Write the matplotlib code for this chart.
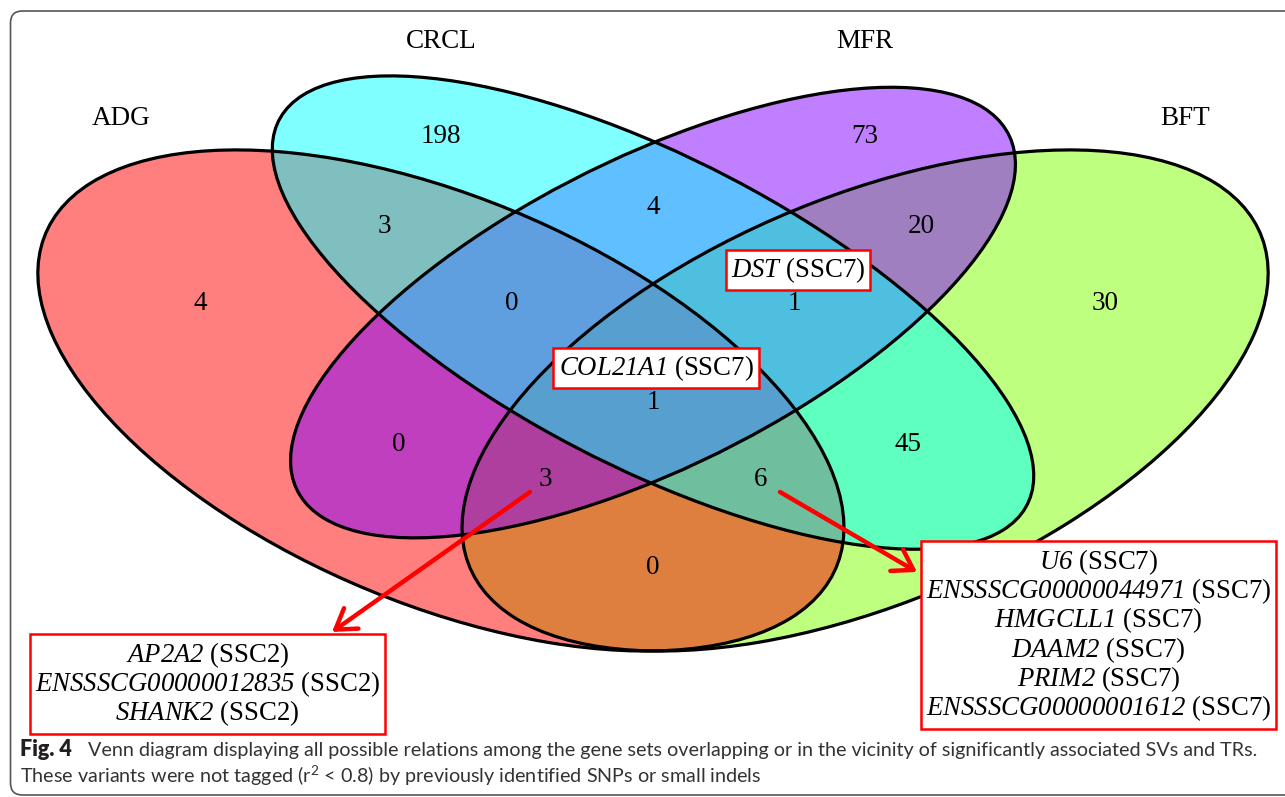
import matplotlib
matplotlib.use("Agg")
import matplotlib.pyplot as plt
from matplotlib.patches import Ellipse, FancyBboxPatch

plt.rcParams['mathtext.fontset'] = 'custom'
plt.rcParams['mathtext.rm'] = 'Lato'
plt.rcParams['mathtext.sf'] = 'Liberation Serif:italic'

SERIF = "Liberation Serif"

# ── data ──
set_names = ["ADG", "CRCL", "MFR", "BFT"]
set_colors = ["#FF0000", "#00FFFF", "#8000FF", "#80FF00"]

region_keys = ["ADG", "CRCL", "MFR", "BFT",
               "ADG&CRCL", "CRCL&MFR", "MFR&BFT",
               "ADG&CRCL&MFR", "CRCL&MFR&BFT", "ADG&CRCL&MFR&BFT",
               "ADG&MFR", "CRCL&BFT", "ADG&MFR&BFT", "ADG&CRCL&BFT",
               "ADG&BFT"]
region_counts = [4, 198, 73, 30, 3, 4, 20, 0, 1, 1, 0, 45, 3, 6, 0]

genes_all4 = ["COL21A1"]
genes_crcl_mfr_bft = ["DST"]
genes_adg_mfr_bft = ["AP2A2", "ENSSSCG00000012835", "SHANK2"]
genes_adg_crcl_bft = ["U6", "ENSSSCG00000044971", "HMGCLL1", "DAAM2",
                      "PRIM2", "ENSSSCG00000001612"]
chrom_all4 = "SSC7"
chrom_crcl_mfr_bft = "SSC7"
chrom_adg_mfr_bft = "SSC2"
chrom_adg_crcl_bft = "SSC7"

# ── layout (unit square, quad-venn style) ──
# x, y, semi-major, semi-minor, rotation
ELLIPSES = {
    "BFT":  (0.65, 0.47, 0.35, 0.20, 45),
    "ADG":  (0.35, 0.47, 0.35, 0.20, 135),
    "MFR":  (0.50, 0.57, 0.33, 0.15, 45),
    "CRCL": (0.50, 0.57, 0.35, 0.15, 135),
}
DRAW_ORDER = ["BFT", "ADG", "MFR", "CRCL"]

LABEL_POS = {
    "ADG": (0.18, 0.58), "CRCL": (0.35, 0.77), "MFR": (0.65, 0.77),
    "BFT": (0.82, 0.58), "ADG&CRCL": (0.31, 0.668), "CRCL&MFR": (0.50, 0.69),
    "MFR&BFT": (0.69, 0.668), "ADG&CRCL&MFR": (0.40, 0.58),
    "CRCL&MFR&BFT": (0.60, 0.58), "ADG&CRCL&MFR&BFT": (0.50, 0.468),
    "ADG&MFR": (0.32, 0.42), "CRCL&BFT": (0.68, 0.42),
    "ADG&MFR&BFT": (0.424, 0.38), "ADG&CRCL&BFT": (0.576, 0.38),
    "ADG&BFT": (0.50, 0.28),
}
CAT_POS = {"ADG": (0.124, 0.791), "CRCL": (0.35, 0.878),
           "MFR": (0.65, 0.878), "BFT": (0.876, 0.791)}

W_PX, H_PX = 1285, 797
fig = plt.figure(figsize=(W_PX / 100, H_PX / 100), dpi=100)
fig.patch.set_facecolor("white")

# venn axes: unit square stretched over the page
vx0, vsx = -54, 1414
vy0, vsy = 813.6, 879
ax = fig.add_axes([vx0 / W_PX, (H_PX - vy0) / H_PX, vsx / W_PX, vsy / H_PX])
ax.set_xlim(0, 1)
ax.set_ylim(0, 1)
ax.axis("off")

color_of = dict(zip(set_names, set_colors))
for name in DRAW_ORDER:
    x, y, a, b, rot = ELLIPSES[name]
    ax.add_patch(Ellipse((x, y), 2 * a, 2 * b, angle=rot,
                         facecolor=color_of[name], alpha=0.5,
                         edgecolor="none", zorder=1))
for name in DRAW_ORDER:
    x, y, a, b, rot = ELLIPSES[name]
    ax.add_patch(Ellipse((x, y), 2 * a, 2 * b, angle=rot, fill=False,
                         edgecolor="black", lw=2.3, zorder=2))

for key, n in zip(region_keys, region_counts):
    lx, ly = LABEL_POS[key]
    ax.text(lx, ly, str(n), ha="center", va="center", fontsize=19.5,
            family=SERIF, zorder=3)

for name in set_names:
    cx, cy = CAT_POS[name]
    ax.text(cx, cy, name, ha="center", va="center", fontsize=19.5,
            family=SERIF, clip_on=False)

# ── page overlay in pixel units ──
page = fig.add_axes([0, 0, 1, 1])
page.set_xlim(0, W_PX)
page.set_ylim(H_PX, 0)
page.axis("off")
page.patch.set_alpha(0)

page.add_patch(FancyBboxPatch((10.5, 11), 1300, 784,
                              boxstyle="round,pad=0,rounding_size=12",
                              fill=False, edgecolor="#555555", lw=1.2))


def gene_block(genes, chrom):
    return "\n".join(rf"$\mathsf{{{g}}}$ ({chrom})" for g in genes)


box = dict(boxstyle="square,pad=0.2", facecolor="white",
           edgecolor="#FF0000", lw=1.8)
gene_kw = dict(ha="center", va="center", multialignment="center",
               fontsize=19.3, family=SERIF, linespacing=0.98, zorder=5)

page.text(656, 368, gene_block(genes_all4, chrom_all4), bbox=box, **gene_kw)
page.text(798, 270, gene_block(genes_crcl_mfr_bft, chrom_crcl_mfr_bft),
          bbox=box, **gene_kw)
page.text(207.5, 684, gene_block(genes_adg_mfr_bft, chrom_adg_mfr_bft),
          bbox=box, **gene_kw)
page.text(1098.5, 635, gene_block(genes_adg_crcl_bft, chrom_adg_crcl_bft),
          bbox=box, **gene_kw)

arrow = dict(arrowstyle="->,head_length=0.7,head_width=0.45", color="#FF0000",
             lw=3.2, shrinkA=0, shrinkB=0, mutation_scale=20)
page.annotate("", xy=(332, 632), xytext=(530, 492), arrowprops=arrow)
page.annotate("", xy=(917, 572), xytext=(780, 492), arrowprops=arrow)

# caption
cap_kw = dict(family="Lato", va="baseline", ha="left")
page.text(20, 756, "Fig. 4", fontsize=15.5, fontweight="heavy",
          color="#231F20", **cap_kw)
page.text(88, 756, "Venn diagram displaying all possible relations among the "
          "gene sets overlapping or in the vicinity of significantly "
          "associated SVs and TRs.", fontsize=14.2, color="#333333", **cap_kw)
page.text(20, 783, r"These variants were not tagged ($\mathregular{r^{2}}$ < 0.8) "
          "by previously identified SNPs or small indels",
          fontsize=14.2, color="#333333", **cap_kw)

fig.savefig("out.png", dpi=100, facecolor="white")
